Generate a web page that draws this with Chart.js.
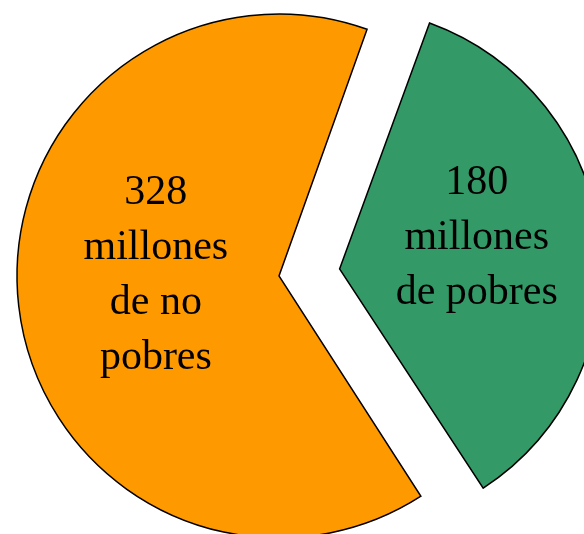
<!DOCTYPE html>
<html lang="es">
<head>
<meta charset="utf-8">
<title>Pobres y no pobres</title>
<script src="https://cdn.jsdelivr.net/npm/chart.js@4"></script>
<style>
  html, body { margin: 0; padding: 0; background: #ffffff; overflow: hidden; }
  #wrap { position: relative; width: 584px; height: 552px; }
</style>
</head>
<body>
<div id="wrap"><canvas id="pie-chart"></canvas></div>
<script>
// Datos (millones de personas)
const categorias = ["no pobres", "pobres"];
const valores = [328, 180];
const etiquetas = [
  ["328", "millones", "de no", "pobres"],
  ["180", "millones", "de pobres"]
];
const colores = ["#ff9900", "#339966"];
const desplazamiento = [0, 61]; // separación de la porción de pobres, en px

// ArcElement agranda el radio de las porciones desplazadas; se deja igual al resto
const radioFijo = {
  id: "radioFijo",
  beforeDatasetsDraw(chart) {
    const meta = chart.getDatasetMeta(0);
    const base = meta.controller.outerRadius;
    meta.data.forEach((arc, i) => {
      const fix = 1 - Math.sin(Math.min(Math.PI, arc.circumference));
      arc.outerRadius = base - desplazamiento[i] * fix;
    });
  }
};

// Texto dentro de cada porción
const etiquetasPlugin = {
  id: "etiquetas",
  afterDatasetsDraw(chart) {
    const ctx = chart.ctx;
    const meta = chart.getDatasetMeta(0);
    const base = meta.controller.outerRadius;
    ctx.save();
    ctx.font = "42px 'Liberation Serif', 'Times New Roman', serif";
    ctx.fillStyle = "#000000";
    ctx.textAlign = "center";
    ctx.textBaseline = "middle";
    const lineH = 55;
    meta.data.forEach((arc, i) => {
      const mid = (arc.startAngle + arc.endAngle) / 2;
      const r = base * 0.5 + desplazamiento[i];
      const cx = arc.x + Math.cos(mid) * r + 7;
      const cy = arc.y + Math.sin(mid) * r - 16;
      const lines = etiquetas[i];
      lines.forEach((t, j) => {
        ctx.fillText(t, cx, cy + (j - (lines.length - 1) / 2) * lineH);
      });
    });
    ctx.restore();
  }
};

const ctx = document.getElementById("pie-chart").getContext("2d");
const pieChart = new Chart(ctx, {
  type: "pie",
  data: {
    labels: categorias,
    datasets: [
      {
        data: valores,
        backgroundColor: colores,
        borderColor: "#000000",
        borderWidth: 1.5,
        borderJoinStyle: "miter",
        // ArcElement divide offset entre 4 al dibujar
        offset: desplazamiento.map((d) => d * 4),
        hoverOffset: 0,
        clip: false
      }
    ]
  },
  options: {
    responsive: true,
    maintainAspectRatio: false,
    animation: false,
    rotation: 147.2,
    radius: 262,
    layout: { padding: { left: 0, top: 0, right: 26, bottom: 0 } },
    events: [],
    plugins: {
      legend: { display: false },
      tooltip: { enabled: false }
    }
  },
  plugins: [radioFijo, etiquetasPlugin]
});
</script>
</body>
</html>
